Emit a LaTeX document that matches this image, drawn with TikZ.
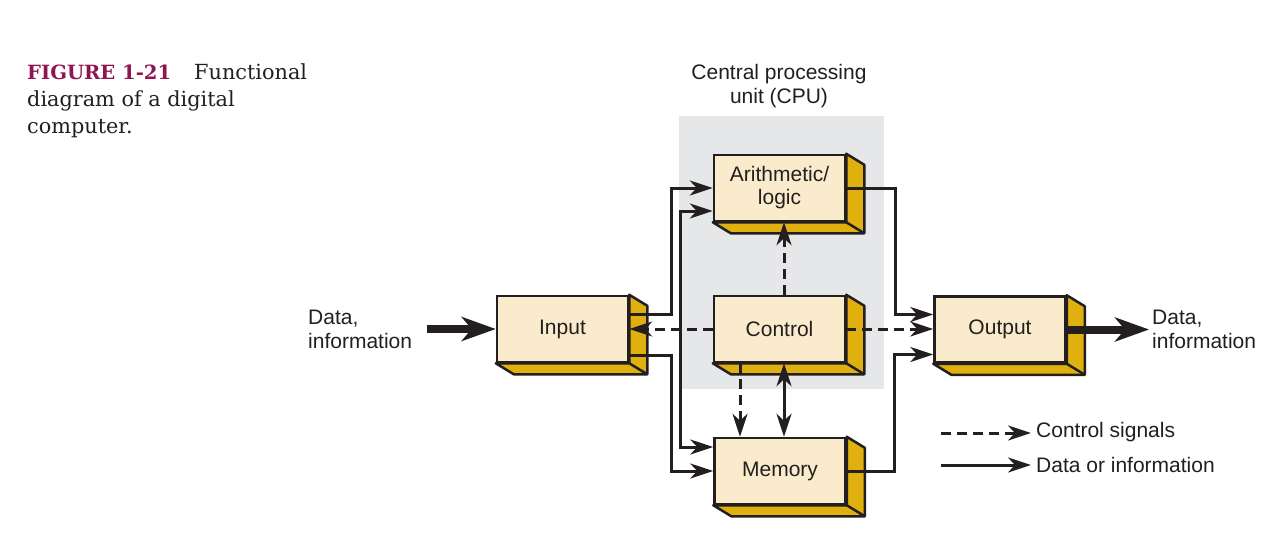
\documentclass[tikz,border=0pt]{standalone}
\usepackage{fontspec}
\setmainfont{Liberation Sans}
\newfontfamily\capfont{DejaVu Serif}
\usetikzlibrary{arrows.meta,calc}
\definecolor{cream}{HTML}{FAEBCC}
\definecolor{gold}{HTML}{DFB00E}
\definecolor{cpugray}{HTML}{E6E7E9}
\definecolor{ink}{HTML}{231F20}
\definecolor{crimson}{HTML}{8E1550}
\tikzset{
  >={Stealth[length=23pt,width=15pt,inset=7pt]},
  blk/.style={draw=ink, fill=cream, line width=2.5pt, minimum width=131pt, minimum height=66pt,
    inner sep=0pt, align=center, text=ink, font=\fontsize{21}{23}\selectfont},
  face/.style={fill=gold, draw=ink, line width=2.5pt, line join=round},
  data/.style={draw=ink, line width=3pt, ->},
  ctrl/.style={data, dash pattern=on 10pt off 6pt},
  bidata/.style={draw=ink, line width=3pt, <->},
  thick arrow/.style={draw=ink, line width=8pt, -{Stealth[length=34pt,width=24pt,inset=10pt]}},
  lbl/.style={font=\fontsize{21}{24}\selectfont, align=left, inner sep=0pt, text=ink},
  captxt/.style={font=\capfont\fontsize{20.8}{27}\selectfont, inner sep=0pt, text=ink, anchor=base west}
}
\newcommand\boxfaces[1]{%
  \draw[face] (#1.north east) -- ++(18,11) -- ($(#1.south east)+(18,11)$)
    -- ($(#1.south west)+(18,11)$) -- (#1.south west) -- (#1.south east) -- cycle;
  \draw[face] (#1.south east) -- ++(18,11);}
\begin{document}
\begin{tikzpicture}[x=1pt,y=-1pt]
\useasboundingbox[fill=white] (0,0) rectangle (1279,546);
% caption
\node[captxt, text=crimson, font=\capfont\fontsize{19.6}{27}\selectfont] (fig) at (27,79) {\bfseries FIGURE 1-21};
\node[captxt] (cap1) at (194,79) {Functional};
\node[captxt] (cap2) at (27,106) {diagram of a digital};
\node[captxt] (cap3) at (27,133) {computer.};
% CPU region
\fill[cpugray] (679,116) rectangle (884,389);
\node[lbl, align=center] (cputitle) at (779,86) {Central processing\\unit (CPU)};
% blocks
\node[blk] (input) at (562.5,329) {Input};
\node[blk] (arith) at (779.5,188) {Arithmetic/\\logic};
\node[blk] (control) at (779.5,329) {Control};
\node[blk] (memory) at (780,471) {Memory};
\node[blk] (output) at (1000,329.5) {Output};
\boxfaces{input}
\boxfaces{arith}
\boxfaces{control}
\boxfaces{memory}
\boxfaces{output}
% data paths
\draw[data] ([yshift=15pt]input.east) -- ++(42,0) |- (arith.west);
\draw[data] ([yshift=-26pt]input.east) -- ++(42,0) |- (memory.west);
\draw[bidata] ([yshift=-23pt]arith.west) -- ++(-32,0) |- ([yshift=24pt]memory.west);
\draw[data] (arith.east) -- ++(49,0) |- ([yshift=15pt]output.west);
\draw[data] (memory.east) -- ++(48,0) |- ([yshift=-25pt]output.west);
\draw[bidata] ([xshift=4.5pt]control.south) -- ([xshift=4pt]memory.north);
% control paths
\draw[ctrl] (control.east) -- (control.east -| output.west);
\draw[ctrl] (control.west) -- (control.west -| input.east);
\draw[ctrl] ([xshift=4.5pt]control.north) -- ([xshift=4.5pt]arith.south);
\draw[ctrl] ([xshift=-39.5pt]control.south) -- ([xshift=-40pt]memory.north);
% external I/O
\coordinate (inS) at (427,329);
\coordinate (outE) at (1149,329.5);
\draw[thick arrow] (inS) -- (input.west);
\draw[thick arrow] (output.east) -- (outE);
\node[lbl, anchor=west] (datain) at (308,329) {Data,\\information};
\node[lbl, anchor=west] (dataout) at (1152,329) {Data,\\information};
% legend
\coordinate (l1a) at (941,433); \coordinate (l1b) at (1031,433);
\coordinate (l2a) at (941,465); \coordinate (l2b) at (1031,465);
\draw[ctrl] (l1a) -- (l1b);
\draw[data] (l2a) -- (l2b);
\node[lbl, anchor=west] (leg1) at (1036,432) {Control signals};
\node[lbl, anchor=west] (leg2) at (1036,465) {Data or information};
\end{tikzpicture}
\end{document}
